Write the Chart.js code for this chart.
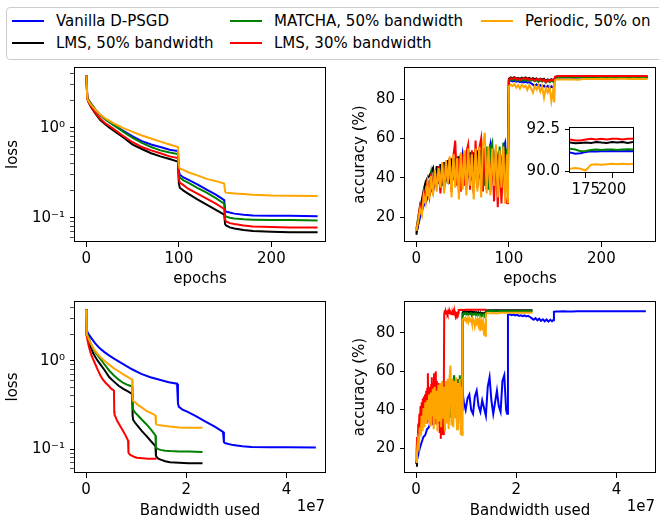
<!DOCTYPE html>
<html>
<head>
<meta charset="utf-8">
<script src="https://cdn.jsdelivr.net/npm/chart.js@4.4.0/dist/chart.umd.min.js"></script>
<style>
  body { margin: 0; background: #fff; width: 659px; height: 521px; overflow: hidden; position: relative; font-family: "DejaVu Sans", sans-serif; }
  canvas { position: absolute; }
  #legend-box { position: absolute; left: 6px; top: 7px; width: 700px; height: 53px; border: 1px solid #ccc; border-radius: 4px; box-sizing: border-box; background: #fff; }
  .leg-text { position: absolute; font-size: 15px; line-height: 18px; white-space: nowrap; color: #000; }
  .leg-line { position: absolute; height: 2px; width: 32px; }
  .offset-label { position: absolute; font-size: 15px; line-height: 18px; text-align: right; color: #000; }
</style>
</head>
<body>
<div id="legend-box"></div>
<div id="legend-items"></div>

<canvas id="loss-epochs" width="330" height="244" style="left:0;top:50px"></canvas>
<canvas id="acc-epochs" width="329" height="244" style="left:330px;top:50px"></canvas>
<canvas id="loss-bw" width="330" height="236" style="left:0;top:285px"></canvas>
<canvas id="acc-bw" width="329" height="236" style="left:330px;top:285px"></canvas>
<canvas id="acc-inset" width="140" height="95" style="left:505px;top:110px"></canvas>

<div class="offset-label" style="left:0;top:497px;width:325px">1e7</div>
<div class="offset-label" style="left:330px;top:497px;width:325px">1e7</div>

<script>
// --- SERIES ---
const seriesNames = ['Vanilla D-PSGD', 'LMS, 50% bandwidth', 'MATCHA, 50% bandwidth', 'LMS, 30% bandwidth', 'Periodic, 50% on'];
const bandwidthPerEpoch = [1.835e5, 0.93e5, 0.93e5, 0.563e5, 0.93e5];

// --- LOSS (log scale) ---
const lossEpochs = [0, 1, 2, 5, 10, 15, 20, 25, 30, 40, 50, 60, 70, 80, 90, 99, 100, 101, 105, 110, 120, 130, 140, 149, 150, 151, 155, 160, 170, 180, 200, 220, 250];
const lossVanilla = [3.8, 2.2, 2.05, 1.85, 1.57, 1.38, 1.25, 1.15, 1.06, 0.92, 0.80, 0.71, 0.65, 0.61, 0.57, 0.55, 0.33, 0.30, 0.28, 0.265, 0.235, 0.205, 0.18, 0.157, 0.12, 0.117, 0.114, 0.111, 0.108, 0.106, 0.105, 0.105, 0.104];
const lossLms50 = [3.8, 2.1, 1.95, 1.7, 1.42, 1.22, 1.1, 1.0, 0.92, 0.78, 0.65, 0.58, 0.52, 0.48, 0.45, 0.42, 0.24, 0.215, 0.2, 0.185, 0.16, 0.14, 0.122, 0.108, 0.085, 0.082, 0.078, 0.076, 0.073, 0.071, 0.07, 0.069, 0.069];
const lossMatcha = [3.8, 2.15, 2.05, 1.85, 1.57, 1.38, 1.24, 1.15, 1.06, 0.9, 0.77, 0.68, 0.61, 0.56, 0.53, 0.51, 0.3, 0.28, 0.26, 0.245, 0.215, 0.19, 0.165, 0.143, 0.106, 0.103, 0.1, 0.098, 0.096, 0.095, 0.094, 0.094, 0.093];
const lossLms30 = [3.8, 2.1, 1.97, 1.72, 1.45, 1.26, 1.13, 1.04, 0.96, 0.81, 0.69, 0.61, 0.56, 0.52, 0.48, 0.46, 0.27, 0.245, 0.23, 0.21, 0.185, 0.163, 0.143, 0.125, 0.095, 0.091, 0.087, 0.085, 0.082, 0.08, 0.079, 0.078, 0.078];
const lossPeriodic = [3.8, 2.1, 2.0, 1.8, 1.57, 1.4, 1.28, 1.19, 1.11, 0.99, 0.9, 0.82, 0.76, 0.7, 0.65, 0.61, 0.38, 0.35, 0.34, 0.32, 0.295, 0.27, 0.255, 0.24, 0.195, 0.19, 0.188, 0.186, 0.183, 0.18, 0.176, 0.175, 0.174];

// --- ACCURACY (%) ---
const accEpochs = [0, 2, 4, 6, 8, 10, 12, 14, 16, 18, 20, 22, 24, 26, 28, 30, 32, 34, 36, 38, 40, 42, 44, 46, 48, 50, 52, 54, 56, 58, 60, 62, 64, 66, 68, 70, 72, 74, 76, 78, 80, 82, 84, 86, 88, 90, 92, 94, 96, 98, 99,
  100, 102, 104, 106, 108, 110, 112, 114, 116, 118, 120, 122, 124, 126, 128, 130, 132, 134, 136, 138, 140, 142, 144, 146, 148, 149,
  150, 152, 155, 160, 165, 170, 175, 180, 185, 190, 195, 200, 205, 210, 215, 220, 225, 230, 235, 240, 245, 250];
const accVanilla = [12, 16, 20, 23, 26, 27, 30, 31, 34, 33, 37, 38, 40, 37, 42, 44, 40, 38, 45, 47, 42, 40, 48, 50, 44,
  52, 44, 40, 46, 48, 40, 38, 47, 50, 42, 39, 45, 41, 37, 52, 57, 45, 38, 44, 50, 42, 39, 55, 58, 40, 38,
  89.4, 89.6, 89.2, 89.5, 89.0, 89.3, 88.8, 89.1, 88.6, 89.0, 88.5, 88.8, 88.2, 87.5, 86.8, 87.6, 86.5, 87.3, 86.2, 87.0, 86.0, 86.9, 85.8, 86.7, 86.0, 86.5,
  90.9, 91.1, 91.1, 91.12, 91.05, 91.08, 91.15, 91.2, 91.18, 91.2, 91.2, 91.22, 91.2, 91.2, 91.22, 91.2, 91.2, 91.22, 91.2, 91.2, 91.22, 91.2];
const accLms50 = [11, 17, 24, 29, 34, 38, 40, 41, 43, 45, 36, 46, 37, 47, 36, 48, 38, 49, 37, 50, 39, 50, 38, 51, 40,
  52, 38, 52, 40, 53, 39, 53, 41, 54, 40, 54, 39, 55, 41, 54, 40, 55, 39, 55, 32, 54, 40, 55, 38, 54, 45,
  90.5, 91.2, 90.8, 91.3, 90.6, 91.0, 90.4, 91.1, 90.7, 91.2, 90.5, 90.9, 90.2, 90.8, 90.3, 90.7, 89.9, 90.6, 90.1, 90.5, 89.5, 90.2, 89.7, 90.3, 89.8, 90.0,
  91.4, 91.6, 91.7, 91.72, 91.68, 91.7, 91.72, 91.7, 91.75, 91.72, 91.7, 91.75, 91.72, 91.75, 91.7, 91.75, 91.72, 91.7, 91.75, 91.72, 91.7, 91.72];
const accMatcha = [14, 20, 26, 25, 33, 30, 38, 32, 42, 34, 44, 35, 46, 36, 47, 34, 48, 37, 50, 33, 50, 37, 51, 33, 52,
  36, 53, 34, 54, 37, 53, 33, 54, 36, 55, 34, 55, 36, 56, 34, 55, 58, 36, 55, 34, 56, 37, 58, 33, 55, 40,
  89.5, 90.2, 89.8, 90.4, 89.6, 90.1, 89.4, 90.0, 89.7, 90.2, 89.3, 89.9, 89.5, 90.0, 89.2, 89.8, 88.9, 89.6, 89.1, 89.7, 88.6, 89.4, 88.8, 89.5, 88.9, 89.2,
  91.0, 91.25, 91.3, 91.35, 91.3, 91.2, 91.22, 91.28, 91.3, 91.28, 91.3, 91.3, 91.28, 91.3, 91.32, 91.3, 91.28, 91.3, 91.3, 91.28, 91.3, 91.3];
const accLms30 = [13, 19, 26, 23, 33, 29, 38, 31, 42, 33, 44, 35, 46, 32, 47, 35, 48, 38, 50, 33, 51, 59, 36, 50, 33,
  52, 36, 53, 57, 34, 54, 32, 59, 35, 55, 60, 33, 55, 34, 54, 33, 53, 28, 54, 25, 52, 27, 54, 30, 27, 50,
  90.0, 90.8, 90.5, 91.0, 90.2, 90.7, 89.8, 90.6, 90.9, 90.3, 90.8, 89.9, 90.6, 90.2, 89.6, 90.5, 89.8, 90.4, 89.5, 90.2, 88.8, 89.9, 89.3, 90.1, 89.6, 90.0,
  91.5, 91.8, 91.85, 91.9, 91.85, 91.85, 91.9, 91.95, 91.9, 91.95, 91.9, 91.95, 91.95, 91.9, 91.95, 91.95, 91.9, 91.95, 91.95, 91.9, 91.95, 91.9];
const accPeriodic = [13, 18, 24, 21, 31, 27, 37, 29, 41, 31, 44, 33, 45, 35, 48, 32, 49, 37, 51, 30, 52, 35, 50, 29, 53,
  34, 54, 31, 55, 36, 52, 29, 55, 33, 56, 30, 57, 63, 32, 56, 31, 55, 36, 57, 30, 54, 35, 56, 27, 52, 27,
  86.5, 87.5, 86.8, 87.8, 86.0, 87.3, 85.5, 87.6, 86.2, 87.0, 84.8, 87.2, 85.6, 83.4, 86.8, 85.0, 87.1, 84.0, 86.5, 80.8, 85.9, 83.5, 86.2, 79.1, 85.0, 78.5,
  89.8, 90.1, 90.15, 90.15, 90.2, 90.15, 90.05, 90.4, 90.42, 90.4, 90.42, 90.45, 90.42, 90.45, 90.42, 90.45, 90.45, 90.42, 90.45, 90.42, 90.45, 90.42];

// --- TICKS ---
const epochTicks = [0, 100, 200];
const bandwidthTicks = [0, 2e7, 4e7];
const accTicks = [20, 40, 60, 80];
const lossTicks = [0.06, 0.07, 0.08, 0.09, 0.1, 0.2, 0.3, 0.4, 0.5, 0.6, 0.7, 0.8, 0.9, 1, 2, 3, 4];
const insetEpochTicks = [175, 200];
const insetAccTicks = [90, 92.5];

// --- STYLE ---
const colors = ['#0000ff', '#000000', '#008000', '#ff0000', '#ffa500'];
const FONT = { family: 'DejaVu Sans', size: 15 };
const lossSeries = [lossVanilla, lossLms50, lossMatcha, lossLms30, lossPeriodic];
const accSeries = [accVanilla, accLms50, accMatcha, accLms30, accPeriodic];

// matplotlib-like box around the axes
const framePlugin = {
    id: 'frame',
    beforeDatasetsDraw(chart, args, opts) {
        if (!opts.fill) return;
        const a = chart.chartArea;
        chart.ctx.save();
        chart.ctx.fillStyle = '#fff';
        chart.ctx.fillRect(a.left, a.top, a.right - a.left, a.bottom - a.top);
        chart.ctx.restore();
    },
    afterDatasetsDraw(chart) {
        const { ctx, chartArea: a } = chart;
        ctx.save();
        ctx.strokeStyle = '#000';
        ctx.lineWidth = 1;
        ctx.strokeRect(Math.round(a.left) - 0.5, Math.round(a.top) + 0.5, Math.round(a.right - a.left) + 1, Math.round(a.bottom - a.top) - 1);
        ctx.restore();
    }
};

function buildSets(epochs, series, useBandwidth) {
    return series.map((vals, i) => ({
        label: seriesNames[i],
        data: epochs.map((e, k) => ({ x: useBandwidth ? e * bandwidthPerEpoch[i] : e, y: vals[k] })),
        borderColor: colors[i],
        borderWidth: 2,
        pointRadius: 0,
        tension: 0,
        clip: 0,
        order: series.length - 1 - i
    }));
}

function axis(opts) {
    return {
        type: opts.type || 'linear',
        min: opts.min,
        max: opts.max,
        afterBuildTicks: s => { s.ticks = opts.ticks.map(v => ({ value: v })); },
        afterFit: s => { if (opts.width) s.width = opts.width; if (opts.height) s.height = opts.height; },
        grid: {
            drawOnChartArea: false, tickLength: 5, tickColor: '#000',
            tickWidth: ctx => (opts.minorWidth && ctx.tick && opts.label(ctx.tick.value) === '') ? 0.7 : 1
        },
        border: { display: false },
        ticks: { color: '#000', font: FONT, padding: opts.pad, autoSkip: false, maxRotation: 0, callback: v => opts.label(v) },
        title: {
            display: !!opts.title, text: opts.title, color: '#000', font: FONT,
            padding: opts.titlePad
        }
    };
}

const lossLabel = v => (Math.abs(v - 1) < 1e-9 ? '10\u2070' : Math.abs(v - 0.1) < 1e-9 ? '10\u207B\u00B9' : '');
const plainLabel = v => String(v);
const bwLabel = v => String(v / 1e7);
const insetLabel = v => v.toFixed(1);

function makeChart(id, datasets, xOpts, yOpts, padding, fill) {
    return new Chart(document.getElementById(id), {
        type: 'line',
        data: { datasets },
        options: {
            responsive: false, animation: false, devicePixelRatio: 1, events: [],
            layout: { padding },
            plugins: { legend: { display: false }, tooltip: { enabled: false }, frame: { fill } },
            scales: { x: axis(xOpts), y: yOpts }
        },
        plugins: [framePlugin]
    });
}

function yAxis(opts) {
    const a = axis(opts);
    a.position = 'left';
    return a;
}

// top-left: loss vs epochs
makeChart('loss-epochs', buildSets(lossEpochs, lossSeries, false),
    { min: -12.3, max: 258, ticks: epochTicks, label: plainLabel, height: 52, pad: 3, title: 'epochs', titlePad: { top: 0, bottom: 6 } },
    yAxis({ type: 'logarithmic', min: 0.0537, max: 4.73, ticks: lossTicks, label: lossLabel, minorWidth: true, width: 75, pad: 5, title: 'loss', titlePad: { top: 4.5, bottom: 0 } }),
    { top: 17, right: 5, left: 0, bottom: 0 }, false);

// top-right: accuracy vs epochs
makeChart('acc-epochs', buildSets(accEpochs, accSeries, false),
    { min: -12.3, max: 258, ticks: epochTicks, label: plainLabel, height: 52, pad: 3, title: 'epochs', titlePad: { top: 0, bottom: 6 } },
    yAxis({ min: 7.3, max: 96.5, ticks: accTicks, label: plainLabel, width: 75, pad: 5, title: 'accuracy (%)', titlePad: { top: 21, bottom: 0 } }),
    { top: 17, right: 4, left: 0, bottom: 0 }, false);

// bottom-left: loss vs bandwidth
makeChart('loss-bw', buildSets(lossEpochs, lossSeries, true),
    { min: -0.22e7, max: 4.77e7, ticks: bandwidthTicks, label: bwLabel, height: 48, pad: 3, title: 'Bandwidth used', titlePad: { top: 0, bottom: 1 } },
    yAxis({ type: 'logarithmic', min: 0.0537, max: 4.73, ticks: lossTicks, label: lossLabel, minorWidth: true, width: 75, pad: 5, title: 'loss', titlePad: { top: 4.5, bottom: 0 } }),
    { top: 16, right: 5, left: 0, bottom: 0 }, false);

// bottom-right: accuracy vs bandwidth
makeChart('acc-bw', buildSets(accEpochs, accSeries, true),
    { min: -0.22e7, max: 4.77e7, ticks: bandwidthTicks, label: bwLabel, height: 48, pad: 3, title: 'Bandwidth used', titlePad: { top: 0, bottom: 1 } },
    yAxis({ min: 7.3, max: 96.5, ticks: accTicks, label: plainLabel, width: 75, pad: 5, title: 'accuracy (%)', titlePad: { top: 21, bottom: 0 } }),
    { top: 16, right: 4, left: 0, bottom: 0 }, false);

// inset: zoom on the final accuracy
makeChart('acc-inset', buildSets(accEpochs, accSeries, false),
    { min: 160, max: 220, ticks: insetEpochTicks, label: plainLabel, height: 32, pad: 3 },
    yAxis({ min: 89.9, max: 92.65, ticks: insetAccTicks, label: insetLabel, width: 65, pad: 5 }),
    { top: 17, right: 12, left: 0, bottom: 0 }, true);

// --- LEGEND ---
const legendCols = [12, 230, 481];
const legendRows = [21, 43];
const legendSlots = [[0, 0], [0, 1], [1, 0], [1, 1], [2, 0]];
const legendHost = document.getElementById('legend-items');
seriesNames.forEach((name, i) => {
    const x = legendCols[legendSlots[i][0]];
    const y = legendRows[legendSlots[i][1]];
    const line = document.createElement('div');
    line.className = 'leg-line';
    line.style.left = x + 'px';
    line.style.top = (y - 1) + 'px';
    line.style.background = colors[i];
    const text = document.createElement('div');
    text.className = 'leg-text';
    text.style.left = (x + 44) + 'px';
    text.style.top = (y - 9) + 'px';
    text.textContent = name;
    legendHost.appendChild(line);
    legendHost.appendChild(text);
});
</script>
</body>
</html>
